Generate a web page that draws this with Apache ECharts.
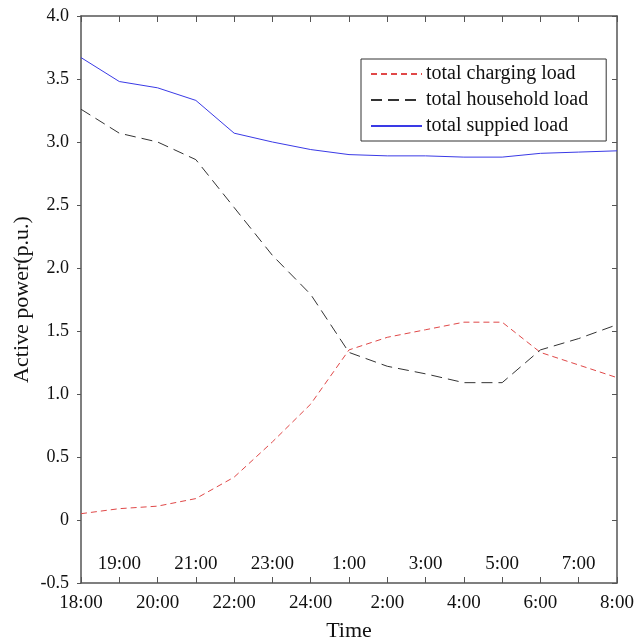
<!DOCTYPE html>
<html><head><meta charset="utf-8">
<script src="https://cdn.jsdelivr.net/npm/echarts@6/dist/echarts.min.js"></script>
<style>html,body{margin:0;padding:0;background:#fff}#c{width:634px;height:639px}</style>
</head><body><div id="c"></div>
<script>
const hours = ['18:00','19:00','20:00','21:00','22:00','23:00','24:00','1:00','2:00','3:00','4:00','5:00','6:00','7:00','8:00'];
const charging = [0.05,0.09,0.11,0.17,0.34,0.62,0.92,1.35,1.45,1.51,1.57,1.57,1.33,1.23,1.13];
const household = [3.26,3.07,3.00,2.86,2.48,2.10,1.79,1.33,1.22,1.16,1.09,1.09,1.35,1.44,1.55];
const supplied = [3.67,3.48,3.43,3.33,3.07,3.00,2.94,2.90,2.89,2.89,2.88,2.88,2.91,2.92,2.93];
const yMin = -0.5, yMax = 4.0, yStep = 0.5;

const font = 'Liberation Serif';
const chart = echarts.init(document.getElementById('c'));
const lineC = '#555';
chart.setOption({
  backgroundColor: '#fff',
  animation: false,
  grid: {left: 81, right: 17, top: 16, bottom: 56, containLabel: false, outerBoundsMode: 'none'},
  legend: {
    left: 361, top: 59, orient: 'vertical',
    padding: [5, 18, 5, 9], itemGap: 6,
    itemWidth: 51, itemHeight: 14,
    borderColor: '#333', borderWidth: 1,
    itemStyle: {opacity: 0},
    textStyle: {fontFamily: font, fontSize: 20, color: '#111', padding: [0, 0, 0, -1]},
    data: ['total charging load','total household load','total suppied load']
  },
  xAxis: [
    {type: 'category', data: hours, boundaryGap: false, position: 'bottom',
     axisLine: {onZero: false, lineStyle: {color: lineC, width: 1.5}},
     axisTick: {inside: true, length: 6, interval: 0, lineStyle: {color: lineC}},
     axisLabel: {interval: 1, fontFamily: font, fontSize: 19, color: '#111', margin: 11},
     name: 'Time', nameLocation: 'middle', nameGap: 37, nameMoveOverlap: false,
     nameTextStyle: {fontFamily: font, fontSize: 22, color: '#111'},
     splitLine: {show: false}},
    {type: 'category', data: hours, boundaryGap: false, position: 'bottom',
     axisLine: {show: false, onZero: false}, axisTick: {show: false},
     axisLabel: {inside: true, interval: (i) => i % 2 === 1, fontFamily: font, fontSize: 19, color: '#111', margin: 9},
     splitLine: {show: false}},
    {type: 'category', data: hours, boundaryGap: false, position: 'top',
     axisLine: {onZero: false, lineStyle: {color: lineC, width: 1.5}},
     axisTick: {inside: true, length: 6, interval: 0, lineStyle: {color: lineC}},
     axisLabel: {show: false}, splitLine: {show: false}}
  ],
  yAxis: [
    {type: 'value', min: yMin, max: yMax, interval: yStep, position: 'left',
     axisLine: {show: true, onZero: false, lineStyle: {color: lineC, width: 1.5}},
     axisTick: {show: true, inside: false, length: 4, lineStyle: {color: lineC}},
     axisLabel: {fontFamily: font, fontSize: 18, color: '#111', margin: 12,
       formatter: v => Math.abs(v) < 1e-9 ? '0' : v.toFixed(1)},
     splitLine: {show: false},
     name: 'Active power(p.u.)', nameLocation: 'middle', nameGap: 48, nameMoveOverlap: false,
     nameTextStyle: {fontFamily: font, fontSize: 22, color: '#111'}},
    {type: 'value', min: yMin, max: yMax, interval: yStep, position: 'right',
     axisLine: {show: true, onZero: false, lineStyle: {color: lineC, width: 1.5}},
     axisTick: {show: true, inside: true, length: 5, lineStyle: {color: lineC}},
     axisLabel: {show: false}, splitLine: {show: false}}
  ],
  series: [
    {name: 'total charging load', type: 'line', data: charging, symbol: 'none',
     itemStyle: {color: '#e04848'},
     lineStyle: {color: '#e04848', width: 1, type: [6, 4]}},
    {name: 'total household load', type: 'line', data: household, symbol: 'none',
     itemStyle: {color: '#333'},
     lineStyle: {color: '#333', width: 1, type: [11, 6]}},
    {name: 'total suppied load', type: 'line', data: supplied, symbol: 'none',
     itemStyle: {color: '#3a3ae6'},
     lineStyle: {color: '#3a3ae6', width: 1, type: 'solid'}}
  ]
});
</script></body></html>
